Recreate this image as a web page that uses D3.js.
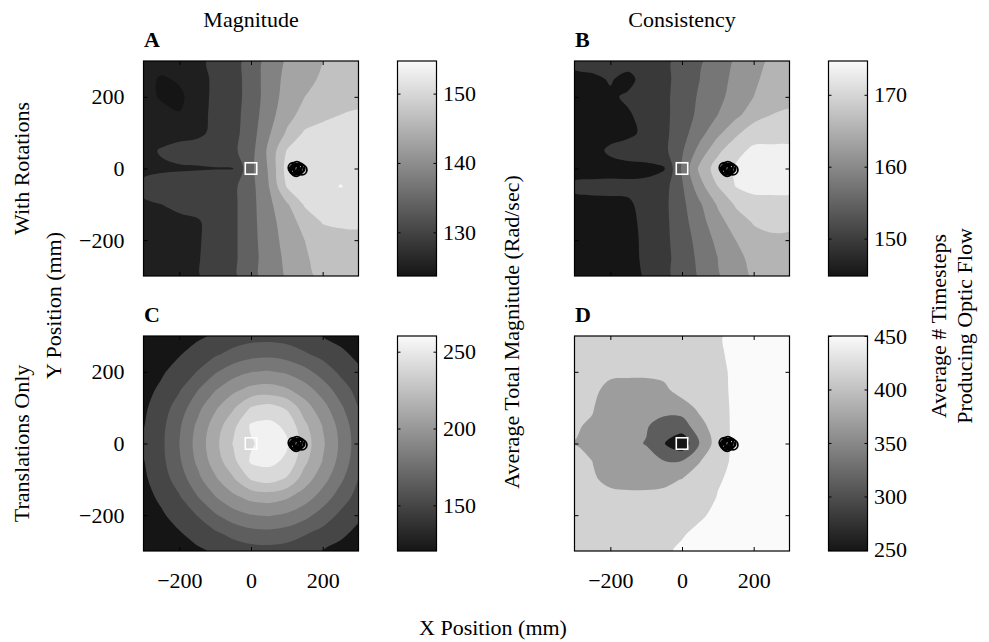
<!DOCTYPE html>
<html><head><meta charset="utf-8">
<script src="https://cdn.jsdelivr.net/npm/d3@7"></script>
<style>
body{margin:0;background:#fff}
svg{display:block}
text{font-family:"Liberation Serif","Times New Roman",serif;fill:#000}
</style>
</head><body>
<svg id="c" width="989" height="642"></svg>
<script>
// ---------- DATA ----------
const gridX = [-300,-250,-200,-150,-100,-50,0,50,100,150,200,250,300];
const gridY = [300,250,200,150,100,50,0,-50,-100,-150,-200,-250,-300];
const axisTicks = [-200, 0, 200];

// A: magnitude, with rotations (Rad/sec)
const magRot = [
 [127,127,127.5,128.5,130.5,132.5,135.5,140.5,143.5,145,147,148.5,149.5],
 [126.5,124.5,125.5,127.5,130.5,132.5,135.5,141,144,146,147.5,149,150],
 [126.5,124.5,124.2,127,130.8,132.5,135.5,141,144.5,147,148.5,149.5,150.5],
 [127,126.5,125.2,128,130.5,132.5,136,141.5,145.5,148.5,150,151,151.2],
 [127.5,128,128.5,129,130,132.5,136.5,142.5,147.5,151.5,152.5,152.5,152.5],
 [128.5,129.8,130.5,130.5,130.8,133,137,144,151.2,152.8,153.5,153.5,153.5],
 [128.5,129,129.2,129.3,129.4,129.4,137.5,143.5,152.5,153.2,153.5,153.5,153.5],
 [130.5,131,131,131,131,133,137,143,151.3,152.8,153.5,154.3,153.5],
 [129,129.5,130,130.5,131,133,137,142,146.5,151.5,152.5,152.8,152.5],
 [128.5,128.8,129,129.2,130.5,133,137,141.5,145,148.5,151.2,151.5,151.3],
 [128.5,128.8,129,129.2,130.5,133,137,141,144.5,147,149,150,150.5],
 [128.5,128.8,129,129.3,130.5,133,137,140.5,144,146.5,148.5,149.5,150],
 [128.5,128.8,129,129.3,130.5,133,137,140.5,143.5,146,148,149,149.5]
];
const levelsMagRot = [125,129.5,134,138.5,143,147,151,154.2];
const cbDomainMagRot = [123.7,154.7];
const cbTicksMagRot = [130,140,150];

// B: consistency, with rotations (timesteps)
const consRot = [
 [150.5,151,151,151,151.5,152.5,155,157,159.5,162,164.5,166,167],
 [148.5,148.8,149.8,148.5,151,152.5,155,157.5,160,162.5,165,166.5,167.5],
 [148,148.5,149,150,151,152.5,155.5,158,160.5,163,165.5,167.5,168.5],
 [148,148,148.5,149.2,150.5,152.5,155.5,158.5,161.5,164.5,167.5,169.5,170],
 [148,148,148.5,149,150,152.5,156,160,164.5,168.5,172,172,172],
 [148,148.5,150,150.5,150.5,152.5,157,163,168.5,172.5,174.2,174.3,174.3],
 [147.5,148,148.5,148.8,149,149.2,158,166.5,171.5,173.9,174.5,174.6,174.6],
 [150.5,150.5,150.3,150,150,152,157,164,169.5,173.6,174.3,174.4,174.3],
 [148,148.5,148.8,149.2,150.2,152.5,156.5,161,166,170,172.5,172.5,172.5],
 [148,148,148.5,149,150,152.5,156,160,164,167.5,169.8,170.2,170],
 [148,148,148.5,148.8,150,152.5,155.5,159,162.5,165.5,168,169,169],
 [148,148,148.2,148.7,150,152.5,155,158.5,161.5,164.5,166.5,168,168],
 [148,148,148,148.5,149.8,152.5,155,158,161,164,166,167.5,167.5]
];
const levelsConsRot = [149.5,153.5,157.5,161.5,165.5,169.5,173.5];
const cbDomainConsRot = [144.8,174.7];
const cbTicksConsRot = [150,160,170];

// C: magnitude, translations only
const magTrans = [
 [130.4,136.1,142.0,147.3,152.1,156.4,158.9,159.5,158.1,155.0,150,145.3,139.7],
 [135.2,142.3,148.8,156.2,162.7,169.6,174.7,175.9,173.1,166.6,160.3,153.2,146.3],
 [140.2,147.8,156.6,165.4,178.3,188.4,194.6,196.1,192.7,184.8,173.5,161.9,152.9],
 [144.3,153.2,163.6,179.1,194.1,206.4,214.4,216.4,211.8,201.9,188.4,172.7,159.5],
 [147.4,157.9,171.9,190.3,207.6,222.8,241,246,238,217.0,200.8,183.0,164.6],
 [149.3,160.9,177.9,197.6,217.0,235.5,257,259,252,228.3,209.4,189.8,170.0],
 [153,161.9,180,200.3,220.5,240.8,253.5,261,257,232.7,212.4,192.2,171.9],
 [149.3,160.9,177.9,197.6,217.0,235.5,257,259,252,228.3,209.4,189.8,170.0],
 [147.4,157.9,171.9,190.3,207.6,222.8,241,246,238,217.0,200.8,183.0,164.6],
 [144.3,153.2,163.6,179.1,194.1,206.4,214.4,216.4,211.8,201.9,188.4,172.7,159.5],
 [140.2,147.8,156.6,165.4,178.3,188.4,194.6,196.1,192.7,184.8,173.5,161.9,152.9],
 [135.2,142.3,148.8,156.2,162.7,169.6,174.7,175.9,173.1,166.6,160.3,153.2,146.3],
 [130.4,136.1,142.0,147.3,152.1,156.4,158.9,159.5,158.1,155.0,150,145.3,139.7]
];
const levelsMagTrans = [150,165,180,195,210,225,240,255];
const cbDomainMagTrans = [120.3,260.2];
const cbTicksMagTrans = [150,200,250];

// D: consistency, translations only
const consTrans = [
 [432,432,432,432,432,432,435,440,448,455,458,460,460],
 [432,432,432,432,432,432,435,440,447,455,458,460,460],
 [432,430,428,425,425,428,432,438,444,455,458,460,460],
 [432,428,398,396,396,405,436,438,443,455,458,460,460],
 [430,418,388,385,384,385,392,426,441,455,458,460,460],
 [419,410,385,380,372,350,345,400,440,455,458,460,460],
 [414,395,385,378,366,314,270,372,438,456,458,460,460],
 [425,415,395,388,382,370,372,414,442,455,458,460,460],
 [430,420,405,400,400,405,416,430,448,455,458,460,460],
 [432,430,426,425,425,426,432,440,451,456,458,460,460],
 [432,432,432,432,432,434,440,446,457,458,460,460,460],
 [432,432,432,432,432,436,447,457,458,460,460,460,460],
 [432,432,432,432,436,445,455,458,460,460,460,460,460]
];
const levelsConsTrans = [312,368,415,450];
const cbDomainConsTrans = [249,450];
const cbTicksConsTrans = [250,300,350,400,450];

// markers
const circleX = [118,124,128,132,126,136,121,142];
const circleY = [2,-4,5,-2,-8,1,-3,-4];
const circleR = 14;
const squareX = [0], squareY = [0];
const squareHalf = 16;

// texts
const colTitles = ["Magnitude","Consistency"];
const panelLetters = ["A","B","C","D"];
const rowTitles = ["With Rotations","Translations Only"];
const yTitle = "Y Position (mm)";
const xTitle = "X Position (mm)";
const cbTitleLeft = "Average Total Magnitude (Rad/sec)";
const cbTitleRight = ["Average # Timesteps","Producing Optic Flow"];

// ---------- DRAW ----------
const svg = d3.select('#c');
const FONT = 22;
const SIZE = 215;
const CB_OFF = 254, CB_W = 39;

function grayOf(domain, v){
  const f = Math.max(0, Math.min(1, (v-domain[0])/(domain[1]-domain[0])));
  const L = Math.round(21 + f*229);
  return `rgb(${L},${L},${L})`;
}

const panels = [
 {grid:magRot, levels:levelsMagRot, domain:cbDomainMagRot, ticks:cbTicksMagRot, left:143.5, top:61, xl:false, yl:true, letter:panelLetters[0]},
 {grid:consRot, levels:levelsConsRot, domain:cbDomainConsRot, ticks:cbTicksConsRot, left:574.5, top:61, xl:false, yl:false, letter:panelLetters[1]},
 {grid:magTrans, levels:levelsMagTrans, domain:cbDomainMagTrans, ticks:cbTicksMagTrans, left:143.5, top:336, xl:true, yl:true, letter:panelLetters[2]},
 {grid:consTrans, levels:levelsConsTrans, domain:cbDomainConsTrans, ticks:cbTicksConsTrans, left:574.5, top:336, xl:true, yl:false, letter:panelLetters[3]}
];

const defs = svg.append('defs');
const lineClosed = d3.line().curve(d3.curveCatmullRomClosed.alpha(0.5));

function styleAxis(g){
  g.attr('font-family','"Liberation Serif","Times New Roman",serif').attr('font-size',FONT);
  g.select('.domain').remove();
  g.selectAll('.tick line').attr('stroke','#000').attr('stroke-width',1);
  g.selectAll('.tick text').attr('fill','#000');
}

panels.forEach((p,i)=>{
  const g = svg.append('g');
  const x = d3.scaleLinear().domain([-300,300]).range([p.left, p.left+SIZE]);
  const y = d3.scaleLinear().domain([-300,300]).range([p.top+SIZE, p.top]);
  const cid = 'clip'+i;
  defs.append('clipPath').attr('id',cid).append('rect')
    .attr('x',p.left).attr('y',p.top).attr('width',SIZE).attr('height',SIZE);
  const cg = g.append('g').attr('clip-path',`url(#${cid})`);
  cg.append('rect').attr('x',p.left).attr('y',p.top).attr('width',SIZE).attr('height',SIZE)
    .attr('fill', grayOf(p.domain, p.domain[0]));

  const n = gridX.length, m = gridY.length;
  const stepX = (gridX[n-1]-gridX[0])/(n-1), stepY = (gridY[m-1]-gridY[0])/(m-1);
  const toPx = pt => [x(gridX[0] + (pt[0]-0.5)*stepX), y(gridY[0] + (pt[1]-0.5)*stepY)];
  const contours = d3.contours().size([n,m]).thresholds(p.levels)(p.grid.flat());
  contours.forEach(c=>{
    let d = '';
    c.coordinates.forEach(poly=>poly.forEach(ring=>{
      const pts = ring.slice(0, ring.length-1).map(toPx);
      if (pts.length > 2) d += lineClosed(pts);
    }));
    if (d) cg.append('path').attr('d', d).attr('fill-rule','evenodd').attr('fill', grayOf(p.domain, c.value));
  });

  // markers
  cg.selectAll('circle.m').data(d3.range(circleX.length)).join('circle')
    .attr('cx', k=>x(circleX[k])).attr('cy', k=>y(circleY[k]))
    .attr('r', x(circleR)-x(0)).attr('fill','none').attr('stroke','#000').attr('stroke-width',1.8);
  cg.selectAll('rect.sq').data(d3.range(squareX.length)).join('rect')
    .attr('x', k=>x(squareX[k]-squareHalf)).attr('y', k=>y(squareY[k]+squareHalf))
    .attr('width', x(squareHalf)-x(-squareHalf)).attr('height', y(-squareHalf)-y(squareHalf))
    .attr('fill','none').attr('stroke','#fff').attr('stroke-width',1.6);

  // axes
  const fmt = d3.format('d');
  g.append('g').attr('transform',`translate(0,${p.top+SIZE})`)
    .call(d3.axisBottom(x).tickValues(axisTicks).tickSizeInner(-4).tickSizeOuter(0).tickPadding(21).tickFormat(p.xl?fmt:()=>''))
    .call(styleAxis);
  g.append('g').attr('transform',`translate(0,${p.top})`)
    .call(d3.axisTop(x).tickValues(axisTicks).tickSizeInner(-4).tickSizeOuter(0).tickFormat(()=>''))
    .call(styleAxis);
  g.append('g').attr('transform',`translate(${p.left},0)`)
    .call(d3.axisLeft(y).tickValues(axisTicks).tickSizeInner(-4).tickSizeOuter(0).tickPadding(19).tickFormat(p.yl?fmt:()=>''))
    .call(styleAxis);
  g.append('g').attr('transform',`translate(${p.left+SIZE},0)`)
    .call(d3.axisRight(y).tickValues(axisTicks).tickSizeInner(-4).tickSizeOuter(0).tickFormat(()=>''))
    .call(styleAxis);
  g.append('rect').attr('x',p.left).attr('y',p.top).attr('width',SIZE).attr('height',SIZE)
    .attr('fill','none').attr('stroke','#000').attr('stroke-width',1.2);

  // panel letter
  svg.append('text').attr('x',p.left+0.5).attr('y',p.top-14.5).attr('font-size',FONT)
    .attr('font-weight','bold').text(p.letter);

  // colorbar
  const cbx = p.left + CB_OFF;
  const cy = d3.scaleLinear().domain(p.domain).range([p.top+SIZE, p.top]);
  const gid = 'grad'+i;
  const grad = defs.append('linearGradient').attr('id',gid).attr('x1',0).attr('y1',1).attr('x2',0).attr('y2',0);
  grad.append('stop').attr('offset','0%').attr('stop-color',grayOf(p.domain,p.domain[0]));
  grad.append('stop').attr('offset','100%').attr('stop-color',grayOf(p.domain,p.domain[1]));
  g.append('rect').attr('x',cbx).attr('y',p.top).attr('width',CB_W).attr('height',SIZE).attr('fill',`url(#${gid})`);
  g.append('g').attr('transform',`translate(${cbx+CB_W},0)`)
    .call(d3.axisRight(cy).tickValues(p.ticks).tickSizeInner(-3).tickSizeOuter(0).tickPadding(6.5).tickFormat(fmt))
    .call(styleAxis);
  g.append('g').attr('transform',`translate(${cbx},0)`)
    .call(d3.axisLeft(cy).tickValues(p.ticks).tickSizeInner(-3).tickSizeOuter(0).tickFormat(()=>''))
    .call(styleAxis);
  g.append('rect').attr('x',cbx).attr('y',p.top).attr('width',CB_W).attr('height',SIZE)
    .attr('fill','none').attr('stroke','#000').attr('stroke-width',1.2);
});

// titles
svg.append('text').attr('x',251).attr('y',27).attr('text-anchor','middle').attr('font-size',FONT).text(colTitles[0]);
svg.append('text').attr('x',682).attr('y',27).attr('text-anchor','middle').attr('font-size',FONT).text(colTitles[1]);
function vtext(tx, ty, s){
  svg.append('text').attr('transform',`translate(${tx},${ty}) rotate(-90)`)
    .attr('text-anchor','middle').attr('font-size',FONT).text(s);
}
vtext(29, 168.5, rowTitles[0]);
vtext(29, 443.5, rowTitles[1]);
vtext(61, 305.5, yTitle);
vtext(519, 332, cbTitleLeft);
vtext(946, 326, cbTitleRight[0]);
vtext(972, 326, cbTitleRight[1]);
svg.append('text').attr('x',493).attr('y',635).attr('text-anchor','middle').attr('font-size',FONT).text(xTitle);
</script>
</body></html>
